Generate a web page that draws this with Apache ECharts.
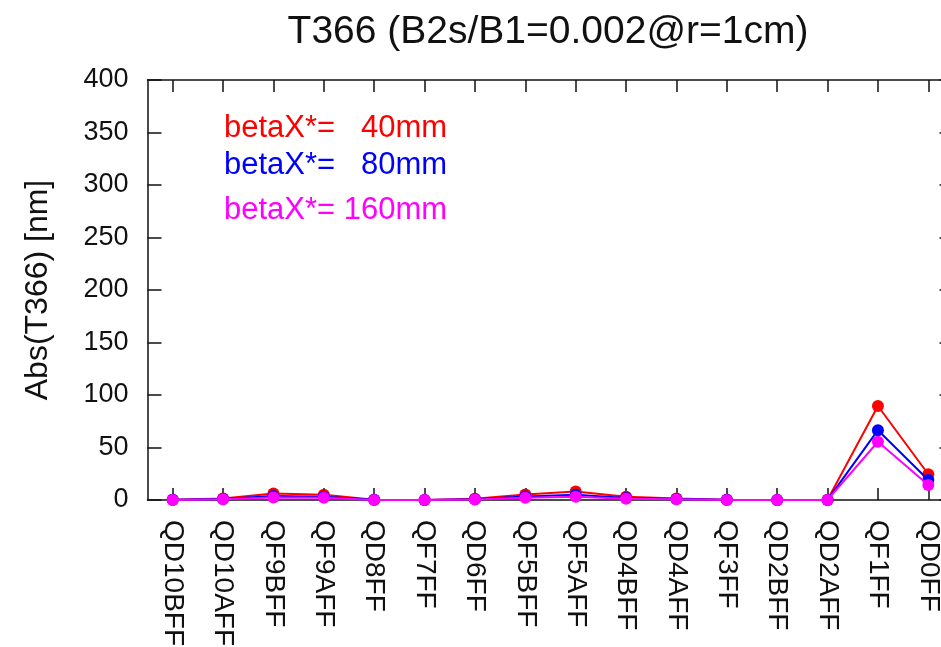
<!DOCTYPE html>
<html><head><meta charset="utf-8">
<script src="https://cdn.jsdelivr.net/npm/echarts@6/dist/echarts.min.js"></script>
<style>html,body{margin:0;padding:0;background:#fff}#c{width:941px;height:647px}</style>
</head><body><div id="c"></div>
<script>
const categories = ["QD10BFF","QD10AFF","QF9BFF","QF9AFF","QD8FF","QF7FF","QD6FF","QF5BFF","QF5AFF","QD4BFF","QD4AFF","QF3FF","QD2BFF","QD2AFF","QF1FF","QD0FF"];
const beta40 = [0.3, 1.5, 6.2, 5.0, 0.3, 0.1, 1.2, 5.2, 8.0, 3.2, 1.5, 0.3, 0.1, 0.2, 89.5, 24.5];
const beta80 = [0.2, 1.0, 3.8, 3.2, 0.2, 0.1, 0.8, 3.4, 5.0, 2.0, 0.9, 0.2, 0.1, 0.1, 66.5, 19.0];
const beta160 = [0.1, 0.7, 2.4, 2.2, 0.1, 0.0, 0.5, 2.2, 3.2, 1.2, 0.6, 0.1, 0.0, 0.1, 55.5, 14.3];
const seriesNames = ["betaX*=   40mm", "betaX*=   80mm", "betaX*= 160mm"];
const seriesColors = ["#ff0000", "#0000ff", "#ff00ff"];
const yTicks = {min: 0, max: 400, interval: 50};
const seriesData = [beta40, beta80, beta160];

const chart = echarts.init(document.getElementById('c'));
const font = 'Liberation Sans, Arial, sans-serif';
const legendTops = [113, 150, 195];
const xTick = {show: true, inside: true, length: 12, interval: 0, alignWithLabel: true, lineStyle: {color: '#111', width: 1.5}};
chart.setOption({
  animation: false,
  backgroundColor: '#fff',
  title: {
    text: 'T366 (B2s/B1=0.002@r=1cm)',
    left: 548, top: 13, textAlign: 'center', padding: 0,
    textStyle: {fontFamily: font, fontSize: 39, fontWeight: 'normal', color: '#111'}
  },
  legend: seriesNames.map((n, i) => ({
    left: 219, top: legendTops[i], padding: 0, itemWidth: 0, itemHeight: 0, itemGap: 0,
    icon: 'none', selectedMode: false,
    textStyle: {fontFamily: font, fontSize: 31, padding: 0},
    data: [{name: n, textStyle: {color: seriesColors[i]}}]
  })),
  grid: {left: 147.5, top: 80, right: -12.5, bottom: 147, containLabel: false, outerBoundsMode: 'none'},
  xAxis: [{
    type: 'category', data: categories, position: 'bottom', boundaryGap: true,
    axisLine: {show: true, onZero: false, lineStyle: {color: '#111', width: 1.5}},
    axisTick: xTick,
    axisLabel: {rotate: -90, margin: 20, interval: 0, fontFamily: font, fontSize: 28, color: '#111'}
  }, {
    type: 'category', data: categories, position: 'top', boundaryGap: true,
    axisLine: {show: true, onZero: false, lineStyle: {color: '#111', width: 1.5}},
    axisTick: xTick,
    axisLabel: {show: false}
  }],
  yAxis: [{
    type: 'value', min: yTicks.min, max: yTicks.max, interval: yTicks.interval,
    name: 'Abs(T366) [nm]', nameLocation: 'middle', nameGap: 93,
    nameTextStyle: {fontFamily: font, fontSize: 32, color: '#111'},
    axisLine: {show: true, onZero: false, lineStyle: {color: '#111', width: 1.5}},
    axisTick: {show: true, inside: true, length: 14, lineStyle: {color: '#111', width: 1.5}},
    axisLabel: {margin: 19, fontFamily: font, fontSize: 27, color: '#111'},
    splitLine: {show: false}
  }, {
    type: 'value', position: 'right', min: yTicks.min, max: yTicks.max, interval: yTicks.interval,
    axisLine: {show: true, onZero: false, lineStyle: {color: '#111', width: 1.5}},
    axisTick: {show: true, inside: true, length: 14, lineStyle: {color: '#111', width: 1.5}},
    axisLabel: {show: false}, splitLine: {show: false}
  }],
  series: seriesData.map((d, i) => ({
    name: seriesNames[i], type: 'line', data: d,
    symbol: 'circle', symbolSize: 12,
    itemStyle: {color: seriesColors[i]},
    lineStyle: {color: seriesColors[i], width: 2},
    z: 2 + i
  }))
});
</script>
</body></html>
